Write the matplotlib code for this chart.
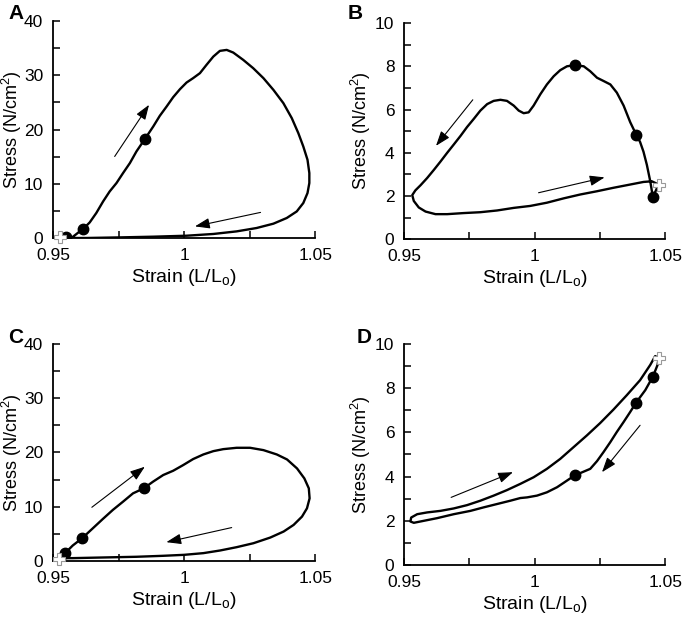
import matplotlib.pyplot as plt
from matplotlib.ticker import MultipleLocator, FixedLocator

plt.rcParams['font.family'] = ['Liberation Sans', 'DejaVu Sans']

# ---- data ----
# panel A
a_strain = [0.9525, 0.9548, 0.9570, 0.9602, 0.9615, 0.9640, 0.9665, 0.9691, 0.9716, 0.9742,
            0.9767, 0.9793, 0.9818, 0.9850, 0.9882, 0.9907, 0.9933, 0.9958, 0.9984, 1.0009,
            1.0034, 1.0060, 1.0085, 1.0111, 1.0136, 1.0162, 1.0187, 1.0225, 1.0263, 1.0302,
            1.0340, 1.0378, 1.0410, 1.0435, 1.0454, 1.0470, 1.0477, 1.0477, 1.0470, 1.0454,
            1.0429, 1.0391, 1.0340, 1.0276, 1.0200, 1.0111, 1.0009, 0.9882, 0.9755, 0.9627,
            0.9570, 0.9525]
a_stress = [0.0, 0.18, 0.0, 1.22, 1.66, 2.88, 4.61, 6.75, 8.59, 10.14,
            11.98, 13.82, 15.97, 18.25, 20.57, 22.54, 24.26, 25.98, 27.46, 28.68,
            29.49, 30.41, 31.94, 33.47, 34.52, 34.70, 34.21, 32.86, 31.33, 29.49,
            27.33, 24.88, 22.12, 19.35, 16.88, 14.43, 11.98, 10.14, 8.29, 6.45,
            4.90, 3.69, 2.64, 1.84, 1.22, 0.74, 0.42, 0.24, 0.11, 0.0,
            0.0, 0.0]
a_dots_x = [0.9548, 0.9615, 0.9850]
a_dots_y = [0.18, 1.66, 18.25]
a_cross = (0.9525, 0.1)
a_arrows = [((0.9735, 15.04), (0.9866, 24.57)), ((1.0291, 4.72), (1.0041, 2.14))]

# panel B
b_strain = [1.0475, 1.0453, 1.0443, 1.0430, 1.0417, 1.0404, 1.0389, 1.0366, 1.0341, 1.0315,
            1.0290, 1.0264, 1.0239, 1.0213, 1.0188, 1.0153, 1.0124, 1.0098, 1.0073, 1.0047,
            1.0022, 0.9996, 0.9977, 0.9958, 0.9939, 0.9920, 0.9894, 0.9869, 0.9843, 0.9818,
            0.9792, 0.9767, 0.9741, 0.9716, 0.9690, 0.9665, 0.9639, 0.9614, 0.9588, 0.9563,
            0.9543, 0.9531, 0.9537, 0.9556, 0.9582, 0.9620, 0.9665, 0.9728, 0.9792, 0.9856,
            0.9920, 0.9983, 1.0047, 1.0111, 1.0175, 1.0239, 1.0302, 1.0366, 1.0417, 1.0449,
            1.0475]
b_stress = [2.53, 1.95, 2.68, 3.44, 4.05, 4.50, 4.84, 5.42, 6.18, 6.78,
            7.16, 7.32, 7.47, 7.77, 8.00, 8.05, 8.00, 7.82, 7.54, 7.16,
            6.71, 6.18, 5.87, 5.83, 5.95, 6.18, 6.40, 6.45, 6.40, 6.25,
            5.95, 5.57, 5.19, 4.78, 4.38, 4.00, 3.59, 3.21, 2.83, 2.50,
            2.26, 2.04, 1.77, 1.47, 1.28, 1.16, 1.16, 1.21, 1.25, 1.33,
            1.45, 1.54, 1.69, 1.89, 2.07, 2.22, 2.38, 2.53, 2.65, 2.68,
            2.53]
b_dots_x = [1.0453, 1.0389, 1.0153]
b_dots_y = [1.95, 4.84, 8.05]
b_cross = (1.0475, 2.53)
b_arrows = [((0.9763, 6.45), (0.9622, 4.32)), ((1.0015, 2.15), (1.0268, 2.86))]

# panel C
c_strain = [0.9522, 0.9546, 0.9575, 0.9611, 0.9652, 0.9690, 0.9728, 0.9767, 0.9805, 0.9846,
            0.9881, 0.9920, 0.9958, 0.9996, 1.0034, 1.0073, 1.0111, 1.0149, 1.0200, 1.0251,
            1.0302, 1.0353, 1.0392, 1.0430, 1.0458, 1.0475, 1.0478, 1.0468, 1.0449, 1.0417,
            1.0379, 1.0328, 1.0264, 1.0200, 1.0137, 1.0073, 1.0000, 0.9920, 0.9818, 0.9690,
            0.9575, 0.9522]
c_stress = [0.53, 1.45, 2.85, 4.20, 6.04, 7.75, 9.41, 10.94, 12.47, 13.39,
            14.61, 15.84, 16.63, 17.67, 18.78, 19.63, 20.24, 20.61, 20.86, 20.86,
            20.43, 19.63, 18.71, 17.06, 15.22, 13.39, 11.55, 9.71, 8.18, 6.65,
            5.43, 4.32, 3.28, 2.55, 1.94, 1.45, 1.14, 0.96, 0.78, 0.65,
            0.53, 0.53]
c_dots_x = [0.9546, 0.9611, 0.9846]
c_dots_y = [1.45, 4.20, 13.39]
c_cross = (0.9522, 0.45)
c_arrows = [((0.9648, 9.90), (0.9850, 17.37)), ((1.0181, 6.16), (0.9932, 3.47))]

# panel D
d_strain = [1.0475, 1.0471, 1.0453, 1.0424, 1.0389, 1.0366, 1.0341, 1.0315, 1.0290, 1.0264,
            1.0239, 1.0213, 1.0153, 1.0124, 1.0086, 1.0047, 1.0009, 0.9971, 0.9945, 0.9907,
            0.9856, 0.9805, 0.9754, 0.9690, 0.9626, 0.9575, 0.9537, 0.9524, 0.9527, 0.9550,
            0.9588, 0.9639, 0.9690, 0.9741, 0.9792, 0.9843, 0.9894, 0.9945, 0.9996, 1.0047,
            1.0098, 1.0149, 1.0200, 1.0251, 1.0302, 1.0353, 1.0404, 1.0443, 1.0462, 1.0475]
d_stress = [9.35, 9.05, 8.52, 7.91, 7.35, 6.92, 6.47, 6.02, 5.56, 5.11,
            4.70, 4.35, 4.05, 3.82, 3.52, 3.29, 3.14, 3.06, 3.03, 2.91,
            2.76, 2.61, 2.45, 2.30, 2.12, 2.00, 1.91, 1.97, 2.15, 2.30,
            2.38, 2.45, 2.56, 2.71, 2.91, 3.14, 3.39, 3.67, 3.97, 4.35,
            4.80, 5.33, 5.86, 6.42, 7.03, 7.68, 8.36, 9.05, 9.45, 9.35]
d_dots_x = [1.0453, 1.0389, 1.0153]
d_dots_y = [8.52, 7.35, 4.05]
d_cross = (1.0475, 9.35)
d_arrows = [((0.9680, 3.06), (0.9917, 4.20)), ((1.0404, 6.32), (1.0258, 4.20))]

x_ticks = [0.95, 0.975, 1.0, 1.025, 1.05]
x_labels = ['0.95', '', '1', '', '1.05']

panels = [
    ('A', [0.0774, 0.618, 0.383, 0.348], a_strain, a_stress, a_dots_x, a_dots_y, a_cross, a_arrows, 40, 10, -0.112),
    ('B', [0.590, 0.616, 0.381, 0.347], b_strain, b_stress, b_dots_x, b_dots_y, b_cross, b_arrows, 10, 2, -0.119),
    ('C', [0.0774, 0.0995, 0.383, 0.3485], c_strain, c_stress, c_dots_x, c_dots_y, c_cross, c_arrows, 40, 10, -0.112),
    ('D', [0.590, 0.093, 0.381, 0.355], d_strain, d_stress, d_dots_x, d_dots_y, d_cross, d_arrows, 10, 2, -0.119),
]

fig = plt.figure(figsize=(6.85, 6.23), dpi=100)

for letter, rect, xs, ys, dx, dy, cross, arrows, ymax, ystep, ylab_x in panels:
    ax = fig.add_axes(rect)
    ax.plot(xs, ys, color='black', lw=1.7, solid_joinstyle='round', solid_capstyle='round', zorder=2)
    ax.plot(dx, dy, 'o', color='black', ms=7.5, zorder=3)
    ax.plot([cross[0]], [cross[1]], 'P', mfc='white', mec='#999999', mew=0.8, ms=8, zorder=4,
            clip_on=False)
    for start, end in arrows:
        ax.annotate('', xy=end, xytext=start,
                    arrowprops=dict(arrowstyle='-|>,head_length=0.9,head_width=0.32',
                                    color='black', lw=0.8, shrinkA=0, shrinkB=0))

    ax.set_xlim(0.95, 1.05)
    ax.set_ylim(0, ymax)
    ax.spines['top'].set_visible(False)
    ax.spines['right'].set_visible(False)
    ax.spines['left'].set_linewidth(1.3)
    ax.spines['bottom'].set_linewidth(1.3)
    ax.xaxis.set_major_locator(FixedLocator(x_ticks))
    ax.set_xticklabels(x_labels)
    ax.yaxis.set_major_locator(MultipleLocator(ystep))
    ax.yaxis.set_minor_locator(MultipleLocator(ystep / 2))
    ax.yaxis.set_major_formatter(plt.FuncFormatter(lambda v, p: '%d' % v))
    ax.tick_params(direction='in', length=5, width=1.1, labelsize=12.5, pad=7)
    ax.tick_params(which='minor', direction='in', length=5, width=1.1)
    ax.set_xlabel('Strain (L/L$_{\\mathregular{o}}$)', fontsize=14, labelpad=3)
    ax.set_ylabel('Stress (N/cm$^{\\mathregular{2}}$)', fontsize=13)
    ax.yaxis.set_label_coords(ylab_x, 0.5)

fig.text(0.012, 0.978, 'A', fontsize=15, fontweight='bold', va='center')
fig.text(0.508, 0.978, 'B', fontsize=15, fontweight='bold', va='center')
fig.text(0.012, 0.459, 'C', fontsize=15, fontweight='bold', va='center')
fig.text(0.521, 0.459, 'D', fontsize=15, fontweight='bold', va='center')

fig.savefig('out.png', dpi=100, facecolor='white')
